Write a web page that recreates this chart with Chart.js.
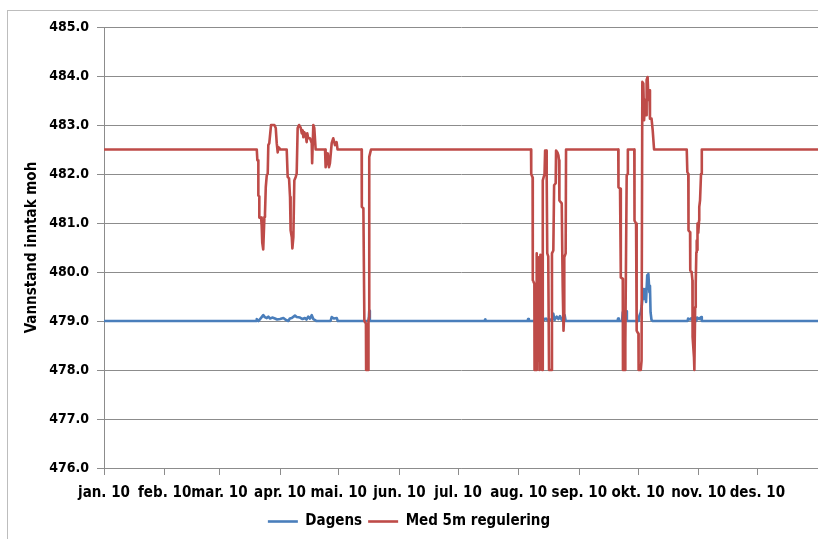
<!DOCTYPE html>
<html>
<head>
<meta charset="utf-8">
<script src="https://cdn.jsdelivr.net/npm/chart.js@4/dist/chart.umd.min.js"></script>
<style>
  html, body { margin: 0; padding: 0; background: #fff; overflow: hidden; }
  #frame { position: absolute; left: 7px; top: 10px; width: 900px; height: 600px; border: 1px solid #bdbdbd; }
  #wrap { position: absolute; left: 0; top: 0; width: 818px; height: 539px; }
</style>
</head>
<body>
<div id="frame"></div>
<div id="wrap"><canvas id="chart" width="818" height="539"></canvas></div>
<script>
// x axis: day of year 2010, ticks at the first day of each month
const monthStarts = [0, 31, 59, 90, 120, 151, 181, 212, 243, 273, 304, 334, 365];
const monthLabels = ['jan. 10', 'feb. 10', 'mar. 10', 'apr. 10', 'mai. 10', 'jun. 10',
                     'jul. 10', 'aug. 10', 'sep. 10', 'okt. 10', 'nov. 10', 'des. 10', ''];

// Med 5m regulering (red)
const medDays = [
  0, 78.1, 78.4, 78.9, 78.9, 79.4, 79.4, 80.3, 80.6, 80.9, 81.4, 82.0, 82.3, 82.7, 83.2, 83.7,
  84.0, 84.5, 85.4, 87.1, 87.8, 88.3, 88.8, 89.1, 89.6, 90.1, 93.4, 93.9, 94.6, 95.1, 95.4, 96.0,
  96.3, 96.8, 97.3, 98.0, 98.5, 99.0, 99.7, 100.6, 101.1, 101.6, 101.9, 102.4, 103.1, 103.6, 103.9,
  104.4, 105.3, 106.2, 106.4, 107.0, 107.5, 108.2, 113.0, 113.3, 113.8, 114.4, 115.0, 115.5, 116.4,
  117.2, 118.1, 118.9, 119.4, 131.7, 131.8, 132.6, 133.1, 133.9, 134.0, 135.1, 135.2, 135.5, 135.6,
  136.5, 218.3, 218.4, 219.1, 219.2, 220.0, 220.1, 220.9, 221.2, 221.6, 222.1, 222.6, 223.1, 223.6,
  224.0, 224.3, 225.2, 225.5, 226.0, 226.3, 226.6, 227.1, 227.5, 228.9, 229.0, 229.7, 230.1, 230.9,
  231.1, 231.8, 232.3, 232.6, 232.8, 234.0, 234.3, 234.5, 234.9, 235.2, 235.3, 236.0, 236.2, 262.9,
  263.0, 263.8, 264.2, 265.2, 265.3, 266.4, 266.5, 267.2, 267.7, 267.8, 271.1, 271.2, 272.0, 272.3,
  273.2, 273.3, 274.4, 274.8, 275.2, 275.7, 276.1, 276.6, 277.1, 277.4, 277.9, 278.3, 278.8, 279.1,
  279.9, 280.5, 281.2, 297.9, 298.2, 298.7, 298.8, 299.6, 299.7, 300.4, 300.8, 300.9, 301.6, 301.8,
  302.2, 302.5, 302.8, 303.0, 303.2, 303.3, 303.5, 303.8, 304.2, 304.3, 304.7, 305.2, 305.6, 365
];
const medVals = [
  482.5, 482.5, 482.28, 482.28, 481.56, 481.54, 481.11, 481.11, 480.95, 480.6, 480.46, 481.12, 481.2, 481.73, 481.97, 482.01,
  482.59, 482.63, 483.0, 483.0, 482.94, 482.63, 482.44, 482.55, 482.53, 482.5, 482.5, 481.94, 481.91, 481.53, 480.85, 480.71,
  480.48, 480.71, 481.87, 481.94, 482.01, 482.94, 483.0, 482.94, 482.83, 482.89, 482.75, 482.85, 482.79, 482.65, 482.83,
  482.73, 482.73, 482.63, 482.22, 483.0, 482.94, 482.5, 482.5, 482.14, 482.24, 482.42, 482.14, 482.22, 482.63,
  482.73, 482.59, 482.65, 482.5, 482.5, 481.33, 481.3, 479.0, 478.95, 478.0, 478.0, 479.0, 479.07, 482.35,
  482.5, 482.5, 482.0, 481.93, 479.83, 479.76, 478.0, 478.0, 480.38, 478.19, 480.3, 478.0, 480.35, 478.1,
  478.0, 481.87, 482.0, 482.48, 482.48, 482.0, 480.38, 480.32, 478.0, 478.0, 480.38, 480.44, 481.77, 481.81,
  482.48, 482.44, 482.38, 482.28, 481.46, 481.4, 480.3, 479.68, 478.8, 479.07, 480.3, 480.38, 482.5, 482.5,
  481.73, 481.7, 479.89, 479.86, 478.0, 478.0, 478.53, 481.97, 482.0, 482.5, 482.5, 481.05, 480.99, 478.8,
  478.74, 478.0, 478.0, 478.19, 483.88, 483.85, 483.1, 483.51, 483.2, 483.92, 483.98, 483.51, 483.71, 483.13,
  483.13, 482.89, 482.5, 482.5, 482.04, 482.0, 480.85, 480.81, 480.03, 480.0, 479.83, 478.67, 478.26, 478.0,
  479.28, 479.76, 480.4, 480.64, 480.45, 480.85, 480.99, 480.8, 481.05, 481.33, 481.46, 482.0, 482.5, 482.5
];

// Dagens (blue)
const dagensDays = [
  0, 78.0, 78.1, 79.0, 80.6, 81.4, 82.2, 83.2, 84.0, 84.9, 86.0, 87.4, 88.5, 90.0, 91.7, 93.0, 94.2,
  95.0, 96.0, 97.6, 98.5, 100.2, 101.5, 102.7, 103.5, 104.4, 105.3, 106.2, 107.0, 107.9, 108.5, 115.8,
  116.4, 117.5, 119.0, 119.5, 135.3, 135.6, 135.9, 194.6, 194.8, 195.0, 216.5, 216.8, 217.2, 220.8,
  221.2, 221.6, 222.9, 223.5, 224.4, 225.0, 226.0, 227.0, 228.0, 229.0, 229.7, 230.3, 231.4, 232.3,
  233.1, 234.0, 235.5, 236.0, 262.5, 262.8, 263.2, 264.8, 265.2, 266.0, 266.9, 267.3, 273.4, 273.7,
  274.4, 274.9, 275.7, 276.2, 276.7, 277.1, 277.7, 278.3, 278.8, 279.1, 279.4, 279.9, 280.5, 298.3,
  298.6, 299.6, 300.4, 301.0, 302.8, 303.2, 304.2, 305.2, 305.6, 365
];
const dagensVals = [
  479.0, 479.0, 479.04, 479.0, 479.08, 479.12, 479.08, 479.06, 479.09, 479.05, 479.07, 479.05, 479.03, 479.04, 479.06, 479.02, 479.0,
  479.05, 479.06, 479.11, 479.08, 479.07, 479.04, 479.06, 479.03, 479.09, 479.05, 479.12, 479.04, 479.02, 479.0, 479.0,
  479.08, 479.05, 479.06, 479.0, 479.0, 479.21, 479.0, 479.0, 479.03, 479.0, 479.0, 479.04, 479.0, 479.0,
  479.25, 479.02, 479.08, 479.02, 479.07, 479.02, 479.05, 479.0, 479.03, 479.02, 479.15, 479.02, 479.09, 479.04,
  479.1, 479.02, 479.12, 479.0, 479.0, 479.05, 479.0, 479.0, 479.18, 479.12, 479.2, 479.0, 479.0, 479.11,
  479.18, 479.31, 479.65, 479.45, 479.65, 479.39, 479.93, 479.96, 479.59, 479.72, 479.18, 479.02, 479.0, 479.0,
  479.05, 479.03, 479.06, 479.0, 479.0, 479.07, 479.04, 479.08, 479.0, 479.0
];

const toPoints = (xs, ys) => xs.map((x, i) => ({ x: x, y: ys[i] }));

const fontFamily = "'Liberation Sans Narrow', 'DejaVu Sans Condensed', sans-serif";
const labelFont = { family: fontFamily, size: 15, weight: 'bold' };
const yFont = { family: fontFamily, size: 14, weight: 'bold' };
const axisGray = '#8c8c8c';

const ctx = document.getElementById('chart').getContext('2d');
new Chart(ctx, {
  type: 'line',
  data: {
    datasets: [
      { label: 'Dagens', data: toPoints(dagensDays, dagensVals), borderColor: '#4a7ebb', backgroundColor: '#4a7ebb',
        borderWidth: 2.6, borderJoinStyle: 'round', pointRadius: 0, pointStyle: 'line', tension: 0, order: 1 },
      { label: 'Med 5m regulering', data: toPoints(medDays, medVals), borderColor: '#be4b48', backgroundColor: '#be4b48',
        borderWidth: 2.6, borderJoinStyle: 'round', pointRadius: 0, pointStyle: 'line', tension: 0, order: 0 }
    ]
  },
  options: {
    responsive: false,
    animation: false,
    events: [],
    layout: { padding: { top: 27, left: 0, right: 0, bottom: 0 } },
    plugins: {
      legend: {
        position: 'bottom',
        labels: { usePointStyle: true, pointStyleWidth: 30, font: labelFont, color: '#000', padding: 6,
                  sort: (a, b) => a.datasetIndex - b.datasetIndex }
      },
      tooltip: { enabled: false }
    },
    scales: {
      x: {
        type: 'linear', min: 0, max: 365,
        afterBuildTicks: s => { s.ticks = monthStarts.map(v => ({ value: v })); },
        afterFit: s => { s.height = 40; s.paddingRight = 0; },
        ticks: { autoSkip: false, maxRotation: 0, font: labelFont, color: '#000', padding: 9,
                 callback: (v, i) => monthLabels[i] || '' },
        grid: { drawOnChartArea: false, tickLength: 7, color: axisGray },
        border: { color: axisGray }
      },
      y: {
        min: 476, max: 485,
        afterFit: s => { s.width = 104; },
        ticks: { stepSize: 1, font: yFont, color: '#000', padding: 8, callback: v => v.toFixed(1) },
        grid: { color: axisGray, tickLength: 7 },
        border: { color: axisGray },
        title: { display: true, text: 'Vannstand inntak moh', font: labelFont, color: '#000', padding: { top: 23, bottom: 0 } }
      }
    }
  }
});
</script>
</body>
</html>
